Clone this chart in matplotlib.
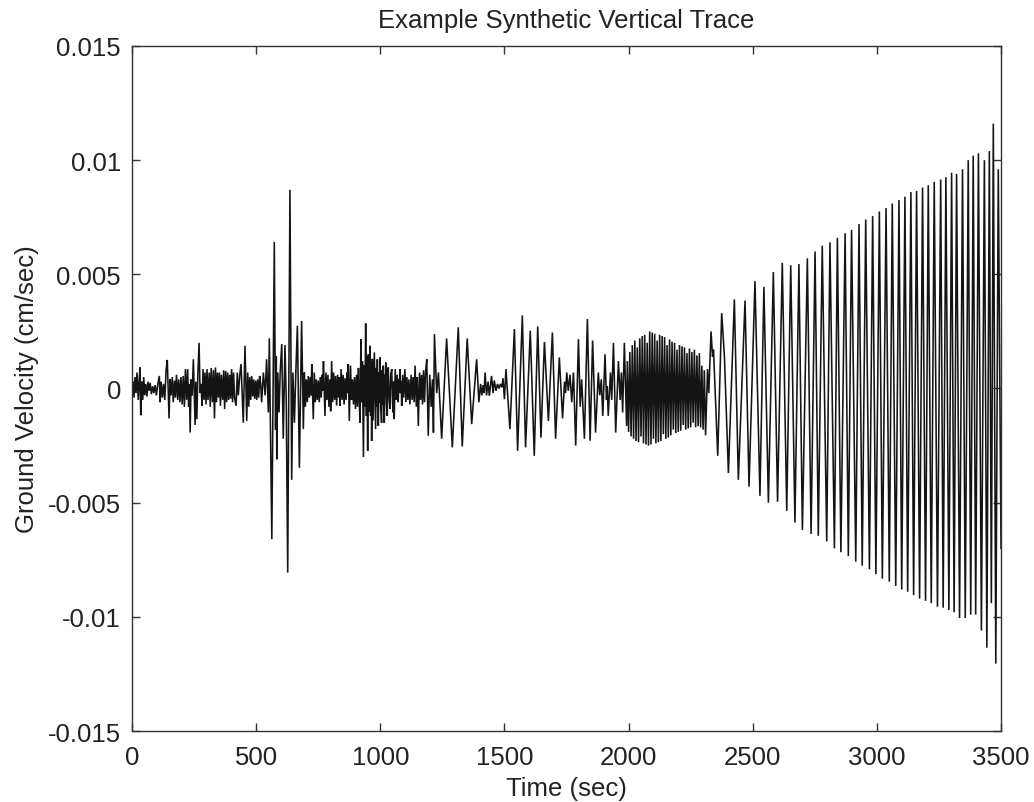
import numpy as np
import matplotlib
matplotlib.use("Agg")
import matplotlib.pyplot as plt
from matplotlib.ticker import FixedLocator, FuncFormatter

# Turning points of the synthetic vertical-component trace, grouped by wave train.
# Each entry is (time in sec, ground velocity in 1e-3 cm/sec).
noise_pre = [
    (0, 0.0), (4, 0.3), (8, -0.4), (12, 0.5), (16, -0.2), (20, 0.7), (25, -0.5), (29, 0.4),
    (32, 0.92), (35, -1.17), (39, 0.3), (43, -0.5), (47, 0.5), (51, -0.3), (55, 0.2), (60, -0.35),
    (64, 0.3), (69, -0.1), (73, 0.25), (78, -0.25), (83, 0.1), (88, -0.2), (93, 0.15), (98, -0.3),
    (104, 0.2), (110, 0.55), (113, -0.6), (117, 0.3), (122, -0.4), (127, 0.2), (132, -0.5),
    (137, 0.8), (142, 1.25), (149, -1.31), (153, 0.4), (157, -0.3), (162, 0.5), (166, -0.6),
    (171, 0.35), (175, -0.4), (179, 0.6), (184, -0.5), (188, 0.4), (193, -0.6), (197, 0.5),
    (202, -0.7), (206, 0.55), (211, -0.8), (215, 0.85), (220, -0.5), (224, 0.85), (228, -0.8),
    (231, 0.2), (234, -1.93), (238, 0.4), (242, -0.3), (247, 1.28), (254, -1.6), (257, 0.3),
    (261, -1.34), (265, 0.6), (270, 2.0), (274, -0.2), (278, 0.2), (282, -0.76), (286, 0.85),
    (290, -0.5), (294, 0.7), (298, -0.7), (302, 0.85), (306, -0.5), (311, 0.7), (315, -0.8),
    (319, 0.9), (324, -0.6), (328, 0.8), (332, -1.31), (336, 0.92), (340, -0.6), (344, 0.7),
    (348, -0.4), (352, 0.7), (356, -0.76), (360, 0.6), (365, -0.5), (369, 0.8), (373, -0.9),
    (377, 0.77), (381, -0.6), (385, 0.7), (389, -0.5), (393, 0.6), (397, -0.45), (401, 0.85),
    (405, -0.6), (409, 0.7), (413, -0.4), (419, -0.76), (424, 0.7), (428, -0.3), (434, 0.6),
    (439, 1.07), (448, -1.5), (455, 1.87), (462, -1.42), (466, 0.7), (470, -0.8), (474, 0.5),
    (478, -0.5), (482, 0.55), (486, -0.35), (490, 0.4), (494, -0.45), (498, 0.35), (502, -0.5),
    (506, 0.4), (510, -0.4), (514, 0.55), (518, 0.2), (522, -0.6), (529, 0.7), (536, -0.3),
    (542, 1.28), (549, -1.05),
]

p_arrival = [
    (553, 2.2), (563, -6.6), (573, 6.42), (578, -1.8), (581, 1.4), (583, -3.1), (587, 0.7),
    (592, -1.05), (597, 0.8), (603, 1.95), (609, -2.2), (616, 1.9), (621, -0.5), (627, -8.06),
    (636, 8.7), (643, -4.0), (648, 0.7), (654, -1.5), (660, 0.8), (666, 2.75), (674, -3.47),
    (683, 2.96), (690, -1.78),
]

coda = [
    (694, 0.7), (698, -0.8), (702, 0.4), (706, -0.6), (710, 0.55), (714, -0.4), (718, 0.5),
    (721, -0.3), (724, 1.07), (730, -1.34), (734, 0.7), (738, -0.6), (742, 0.4), (746, -0.5),
    (750, 0.35), (754, -0.6), (758, 0.5), (762, -0.4), (766, 0.6), (768, -0.1), (771, 1.2),
    (777, -1.2), (781, 0.7), (785, -0.5), (789, 0.6), (793, -0.8), (797, 0.4), (800, -1.0),
    (804, 1.2), (808, -0.6), (812, 0.7), (816, -0.5), (820, 0.55), (824, -0.75), (828, 0.6),
    (832, -0.4), (835, 0.5), (838, -0.76), (842, 0.85), (846, -0.5), (850, 0.6), (854, -0.7),
    (858, 0.45), (862, -0.5), (866, 0.7), (868, -0.2), (871, 1.07), (875, -1.42), (880, 1.0),
    (884, -0.5), (888, 0.4), (892, -0.7), (896, 0.5), (900, -0.9), (904, 0.6), (908, -0.8),
    (912, 0.9), (915, -0.4), (918, -1.5), (922, 2.16), (925, -0.6), (928, 1.2), (932, -3.0),
    (935, 1.0), (938, -0.8), (941, 2.85), (944, -1.2), (946, 1.4), (949, -2.73), (952, 1.5),
    (955, -1.0), (958, 1.87), (961, -1.2), (963, 1.2), (965, -2.3), (968, 1.3), (971, -1.4),
    (976, 1.58), (981, -1.78), (984, 0.9), (986, -0.8), (988, 1.28), (992, -1.64), (995, 0.7),
    (997, -0.6), (999, 1.36), (1002, -0.9), (1005, -1.5), (1008, 0.8), (1010, -0.7), (1012, 1.0),
    (1016, -1.5), (1019, 0.6), (1020, -0.3), (1022, 1.14), (1025, -0.7), (1028, -1.2), (1030, 0.5),
    (1032, 0.92), (1036, -0.5), (1039, -0.9), (1042, 0.6), (1046, 0.85), (1049, -0.6),
    (1052, -1.05), (1054, 0.3), (1056, -1.34), (1060, 0.85), (1064, -0.5), (1068, 0.6),
    (1072, -0.6), (1075, 0.4), (1077, -0.2), (1079, 0.85), (1082, -0.2), (1084, 0.3), (1086, -0.76),
    (1090, 0.6), (1094, -0.4), (1099, 0.85), (1103, -0.6), (1107, 0.5), (1111, -0.5), (1115, 0.4),
    (1119, -0.7), (1124, 0.6), (1128, -0.5), (1132, 0.5), (1136, -0.6), (1140, 1.0), (1145, -0.8),
    (1149, 0.5), (1153, -1.64), (1158, 0.7), (1162, -0.5), (1166, 0.6), (1170, -0.7), (1174, 0.8),
    (1178, -0.6), (1182, 0.7),
]

wave_train_1 = [
    (1187, 1.28), (1193, -2.07), (1199, 0.6), (1205, -0.8), (1210, 0.4), (1214, -1.93),
    (1218, 2.38), (1227, -0.2), (1234, 0.7), (1247, -2.2), (1267, 2.19), (1290, -2.58),
    (1314, 2.68), (1330, -2.54), (1350, 2.19), (1368, -1.56), (1388, 1.28), (1397, -0.6),
    (1404, 0.2), (1409, -0.3), (1414, 0.15), (1418, -0.2), (1422, 0.7), (1428, -0.3),
    (1434, 0.3), (1439, -0.32), (1448, 0.55), (1454, -0.2), (1459, 0.35), (1466, -0.1),
    (1472, 0.2), (1478, 0.0), (1484, 0.2), (1490, 0.05), (1494, 0.45), (1500, -0.47),
]

wave_train_2 = [
    (1506, 0.85), (1522, -1.78), (1540, 2.6), (1553, -2.73), (1572, 3.2), (1585, -2.58),
    (1604, 2.53), (1620, -2.95), (1634, 2.72), (1647, -2.15), (1661, 2.04), (1677, -1.42),
    (1693, 2.45), (1706, -2.2), (1721, 1.36), (1734, -1.31), (1742, 0.3), (1746, -0.2),
    (1751, 0.7), (1757, -0.1), (1764, 0.6), (1771, -0.6), (1778, 0.7), (1787, -2.5),
    (1798, 2.16), (1805, -0.8), (1811, 0.4), (1822, -2.2), (1834, 3.04), (1845, -2.29),
    (1855, 2.1), (1867, -1.93), (1878, 0.7), (1884, -0.3), (1890, 0.4), (1896, -1.2),
    (1905, 1.5), (1911, -0.5), (1914, 0.1), (1918, -1.2), (1927, 0.7), (1932, -0.5),
    (1939, 2.0), (1948, -1.93), (1959, 1.2), (1966, -0.5), (1971, 0.7), (1976, -1.05),
    (1983, 2.0), (1992, -1.64),
]

short_period_burst = [
    (1995, 1.2), (2000, -1.9), (2005, 1.6), (2010, -2.1), (2015, 1.9), (2020, -2.2),
    (2025, 2.1), (2030, -2.3), (2035, 1.8), (2040, -2.35), (2045, 2.2), (2050, -2.1),
    (2055, 2.3), (2060, -2.4), (2065, 2.35), (2070, -2.45), (2075, 2.0), (2080, -2.5),
    (2085, 2.5), (2090, -2.45), (2095, 2.45), (2100, -2.2), (2105, 2.4), (2110, -2.4),
    (2115, 2.1), (2120, -2.35), (2125, 2.35), (2130, -2.3), (2135, 2.3), (2140, -2.0),
    (2145, 2.25), (2150, -2.2), (2155, 1.9), (2160, -2.15), (2165, 2.15), (2170, -2.05),
    (2175, 2.05), (2180, -1.8), (2185, 2.0), (2190, -1.95), (2195, 1.7), (2200, -1.9),
    (2205, 1.9), (2210, -1.85), (2215, 1.85), (2220, -1.6), (2225, 1.8), (2230, -1.8),
    (2235, 1.55), (2240, -1.75), (2245, 1.75), (2250, -1.7), (2255, 1.6), (2260, -1.5),
    (2265, 1.7), (2270, -1.7), (2275, 1.45), (2280, -1.65), (2285, 1.55), (2290, -1.7),
    (2295, 1.0), (2300, -1.8), (2305, 0.8), (2310, -2.05),
]

surface_waves = [
    (2318, 0.85), (2323, -0.2), (2332, 2.5), (2338, 1.4), (2342, 1.7), (2359, -2.95),
    (2375, 3.3), (2386, 1.4), (2402, -3.7), (2426, 3.9), (2442, -4.0), (2469, 3.85),
    (2485, -4.3), (2509, 4.7), (2529, -4.7), (2545, 4.45), (2563, -5.0), (2583, 5.1),
    (2600, -4.96), (2619, 5.5), (2637, -5.36), (2653, 5.4), (2670, -5.87), (2686, 5.45),
    (2700, -6.2), (2720, 5.7), (2735, -6.37), (2751, 6.0), (2764, -6.45), (2780, 6.25),
    (2798, -6.7), (2811, 6.4), (2829, -7.0), (2841, 6.6), (2855, -7.17), (2872, 6.8),
    (2885, -7.34), (2898, 6.95), (2915, -7.58), (2928, 7.2), (2941, -7.76), (2955, 7.4),
    (2970, -7.92), (2983, 7.55), (2996, -8.13), (3010, 7.75), (3022, -8.33), (3037, 7.9),
    (3050, -8.46), (3062, 8.1), (3076, -8.65), (3089, 8.25), (3100, -8.8), (3113, 8.4),
    (3124, -8.9), (3137, 8.6), (3148, -9.05), (3160, 8.65), (3172, -9.2), (3184, 8.8),
    (3196, -9.3), (3207, 8.9), (3219, -9.4), (3231, 9.05), (3244, -9.56), (3257, 9.15),
    (3267, -9.6), (3278, 9.25), (3290, -9.7), (3301, 9.45), (3311, -9.8), (3321, 9.4),
    (3333, -10.05), (3345, 9.6), (3356, -10.05), (3368, 10.0), (3378, -9.9), (3388, 10.2),
    (3398, -9.9), (3409, 10.3), (3421, -10.6), (3433, 10.0), (3443, -11.35), (3453, 10.4),
    (3461, -9.4), (3469, 11.6), (3479, -12.05), (3489, 9.6), (3500, -7.0),
]

wave_trains = [noise_pre, p_arrival, coda, wave_train_1, wave_train_2,
               short_period_burst, surface_waves]

x_ticks = [0, 500, 1000, 1500, 2000, 2500, 3000, 3500]
y_ticks = [-0.015, -0.01, -0.005, 0, 0.005, 0.01, 0.015]

points = np.array([p for train in wave_trains for p in train], dtype=float)
time_s = points[:, 0]
velocity = points[:, 1] * 1e-3  # cm/sec

plt.rcParams["font.family"] = ["Liberation Sans", "DejaVu Sans"]
plt.rcParams["axes.unicode_minus"] = False

fig = plt.figure(figsize=(10.34, 8.03), dpi=100)
ax = fig.add_axes([0.1277, 0.0884, 0.8404, 0.8531])

ax.plot(time_s, velocity, color="#141414", linewidth=1.15, solid_joinstyle="miter")

ax.set_xlim(0, 3500)
ax.set_ylim(-0.015, 0.015)
ax.xaxis.set_major_locator(FixedLocator(x_ticks))
ax.yaxis.set_major_locator(FixedLocator(y_ticks))
ax.yaxis.set_major_formatter(FuncFormatter(lambda v, _: "%g" % v))
ax.xaxis.set_major_formatter(FuncFormatter(lambda v, _: "%g" % v))

text_color = "#222222"
ax.tick_params(direction="in", length=6, width=1.0, color="#333333",
               top=True, right=True, labelsize=18.5, labelcolor=text_color)
ax.tick_params(axis="x", pad=10)
ax.tick_params(axis="y", pad=8)
for spine in ax.spines.values():
    spine.set_color("#333333")
    spine.set_linewidth(1.0)

ax.set_title("Example Synthetic Vertical Trace", fontsize=18.5, color=text_color, pad=14)
ax.set_xlabel("Time (sec)", fontsize=18.5, color=text_color, labelpad=5)
ax.set_ylabel("Ground Velocity (cm/sec)", fontsize=18.5, color=text_color, labelpad=6)

fig.savefig("out.png", dpi=100, facecolor="white")
